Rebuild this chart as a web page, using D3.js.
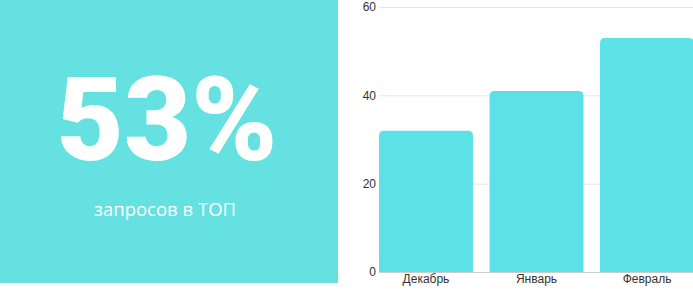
<!DOCTYPE html>
<html lang="ru">
<head>
<meta charset="UTF-8">
<title>53% запросов в ТОП</title>
<script src="https://d3js.org/d3.v7.min.js"></script>
<style>
  body { margin: 0; background: #fff; }
  svg { display: block; }
</style>
</head>
<body>
<svg width="693" height="290"></svg>
<script>
// data
const months = ["Декабрь", "Январь", "Февраль"];
const values = [32, 41, 53];
const yTicks = [0, 20, 40, 60];
const bigNumber = "53%";
const caption = "запросов в ТОП";

const svg = d3.select("svg");

// left card
const card = svg.append("g");
card.append("rect")
    .attr("x", 0).attr("y", 0)
    .attr("width", 338).attr("height", 283)
    .attr("fill", "#64e1e0");
card.append("text")
    .attr("x", 167).attr("y", 160)
    .attr("text-anchor", "middle")
    .attr("fill", "#fff")
    .attr("font-family", "Roboto, sans-serif")
    .attr("font-weight", 900)
    .attr("font-size", 116)
    .attr("textLength", 221)
    .attr("lengthAdjust", "spacing")
    .text(bigNumber);
card.append("text")
    .attr("x", 165).attr("y", 216)
    .attr("text-anchor", "middle")
    .attr("fill", "#fff")
    .attr("font-family", "'Open Sans', sans-serif")
    .attr("font-weight", 500)
    .attr("font-size", 18.5)
    .text(caption);

// bar chart
const x = d3.scaleBand().domain(months).range([379, 694])
    .paddingInner(0.15).paddingOuter(0);
const y = d3.scaleLinear().domain([0, 60]).range([272, 7]);

const chart = svg.append("g")
    .attr("font-family", "'Liberation Sans', Arial, sans-serif");

// grid
chart.selectAll("line.grid").data(yTicks.filter(d => d > 0)).enter()
    .append("line")
    .attr("x1", 379).attr("x2", 693)
    .attr("y1", d => y(d) + 0.5).attr("y2", d => y(d) + 0.5)
    .attr("stroke", "#e6e6e6");

// bars with rounded tops
const r = 5;
chart.selectAll("path.bar").data(values).enter()
    .append("path")
    .attr("fill", "#5ce1e6")
    .attr("d", (d, i) => {
        const x0 = x(months[i]), w = x.bandwidth(), t = y(d), b = y(0);
        return `M${x0},${b}V${t + r}Q${x0},${t} ${x0 + r},${t}H${x0 + w - r}Q${x0 + w},${t} ${x0 + w},${t + r}V${b}Z`;
    });

// y axis
const yAxis = d3.axisLeft(y).tickValues(yTicks).tickSize(0).tickPadding(3);
chart.append("g")
    .attr("transform", "translate(379,0)")
    .call(yAxis)
    .call(g => g.select(".domain").remove())
    .call(g => g.selectAll("text").attr("fill", "#333").attr("font-size", 12));

// x axis
const xAxis = d3.axisBottom(x).tickSize(0).tickPadding(2);
chart.append("g")
    .attr("transform", "translate(0,272)")
    .call(xAxis)
    .call(g => g.select(".domain").remove())
    .call(g => g.selectAll("text").attr("fill", "#333").attr("font-size", 12));

chart.append("line")
    .attr("x1", 379).attr("x2", 693)
    .attr("y1", 272.5).attr("y2", 272.5)
    .attr("stroke", "#ccc");
</script>
</body>
</html>
